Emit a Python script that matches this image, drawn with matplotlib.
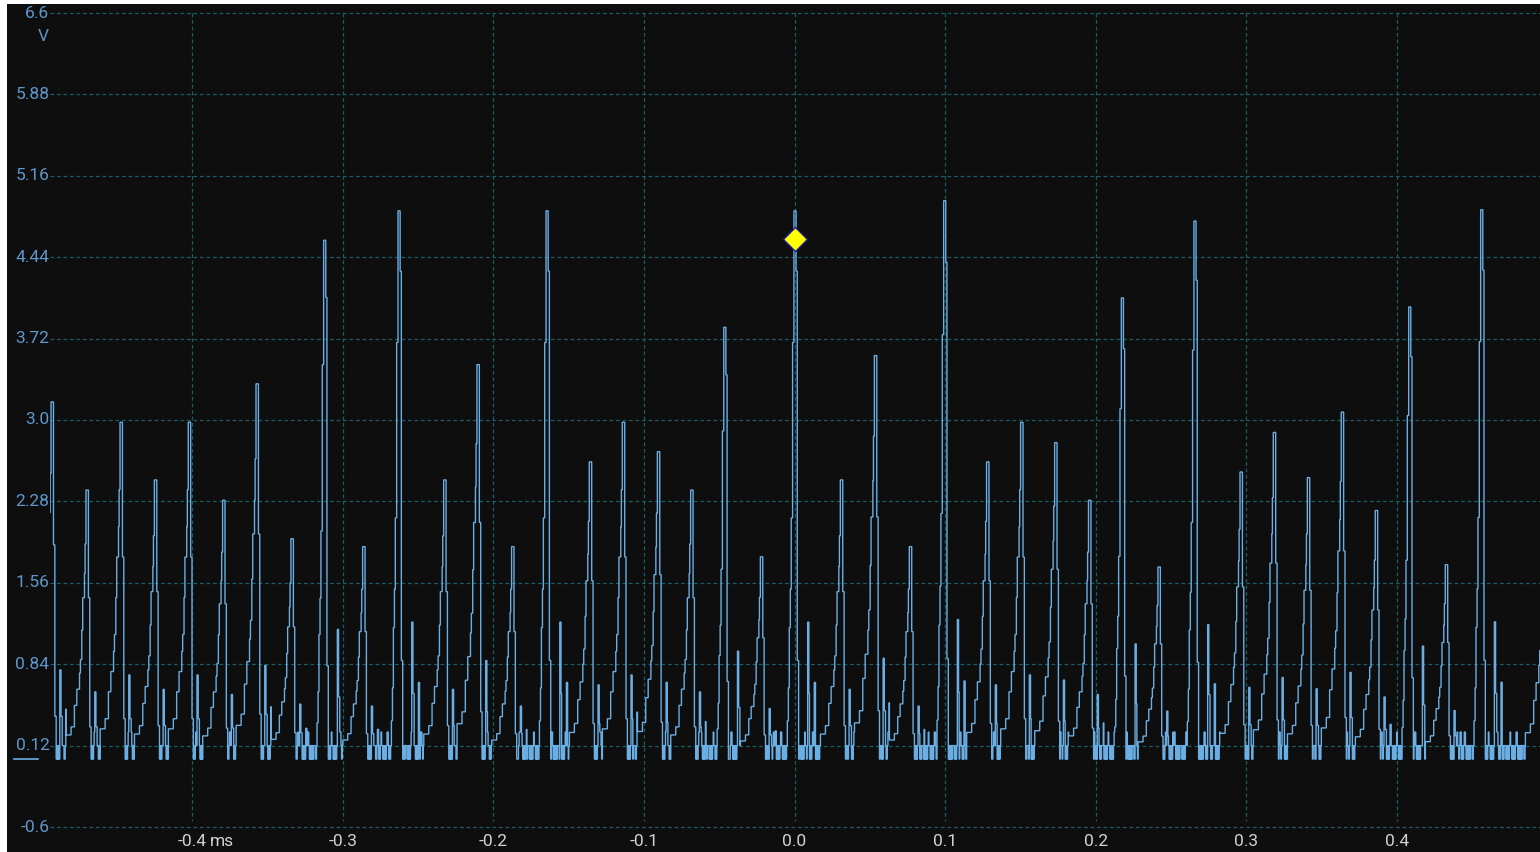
import matplotlib
matplotlib.use("Agg")
import matplotlib.pyplot as plt
from matplotlib.patches import Rectangle
from matplotlib.transforms import blended_transform_factory

W, H, DPI = 1540, 852, 100

# ---- pulse train: peak time (ms) and peak level (V) of each pulse ----
peak_times_ms = [-0.4932, -0.4700, -0.4474, -0.4246, -0.4021, -0.3793, -0.3571,
                 -0.3339, -0.3118, -0.2863, -0.2624, -0.2325, -0.2104, -0.1874,
                 -0.1641, -0.1358, -0.1139, -0.0906, -0.0685, -0.0461, -0.0222,
                 0.0005, 0.0309, 0.0535, 0.0767, 0.0999, 0.1280, 0.1506,
                 0.1732, 0.1957, 0.2179, 0.2418, 0.2661, 0.2963, 0.3184,
                 0.3410, 0.3635, 0.3861, 0.4087, 0.4326, 0.4565, 0.4990]
peak_volts = [3.16, 2.38, 2.98, 2.47, 2.98, 2.29, 3.32,
              1.95, 4.59, 1.88, 4.85, 2.47, 3.49, 1.88,
              4.85, 2.63, 2.98, 2.72, 2.38, 3.82, 1.79,
              4.85, 2.47, 3.57, 1.88, 4.94, 2.63, 2.98,
              2.80, 2.29, 4.08, 1.70, 4.76, 2.54, 2.89,
              2.49, 3.07, 2.20, 4.00, 1.72, 4.86, 2.60]

# step-rise / fall shape of a pulse (µs relative to peak, fraction of peak level)
small_rise_us = [-13.7, -10.4, -8.2, -6.6, -4.8, -4.2, -3.3, -2.7, -1.5, -1.1, -0.5]
small_rise_frac = [0.09, 0.12, 0.20, 0.26, 0.32, 0.37, 0.48, 0.60, 0.69, 0.80, 1.00]
small_fall_us = [1.1, 2.0, 2.9]
small_fall_frac = [0.60, 0.12, 0.0]
big_rise_us = [-5.3, -4.6, -4.0, -3.3, -2.7, -1.8, -0.9]
big_rise_frac = [0.07, 0.13, 0.24, 0.31, 0.44, 0.76, 1.00]
big_fall_us = [0.5, 1.3, 2.2]
big_fall_frac = [0.89, 0.18, 0.0]
big_threshold = 3.6

# ringing after each pulse: start (µs after peak) and level (fraction of peak)
small_ring_us = [5.1, 5.8, 9.0]
big_ring_us = [8.0, 8.7, 12.5]
ring_frac = [0.25, 0.12, 0.14]
ring_width_us = 0.7

# idle-level flicker between pulses (V), one entry per sample
idle_levels = [0.0, 0.12, 0.0, 0.12, 0.0, 0.12, 0.12, 0.12, 0.0, 0.0,
               0.12, 0.0, 0.12, 0.0, 0.12, 0.24, 0.12, 0.12, 0.0, 0.12,
               0.0, 0.12, 0.0, 0.0, 0.12, 0.24, 0.24, 0.12, 0.0, 0.12]
idle_step_us = 0.4

# trigger marker
trigger_t, trigger_v = 0.0, 4.6

y_ticks = [6.6, 5.88, 5.16, 4.44, 3.72, 3.0, 2.28, 1.56, 0.84, 0.12, -0.6]
y_labels = ["6.6", "5.88", "5.16", "4.44", "3.72", "3.0", "2.28", "1.56", "0.84", "0.12", "-0.6"]
x_ticks = [-0.4, -0.3, -0.2, -0.1, 0.0, 0.1, 0.2, 0.3, 0.4]
x_labels = ["-0.4", "-0.3", "-0.2", "-0.1", "0.0", "0.1", "0.2", "0.3", "0.4"]

BG = "#0e0e0e"
TRACE = "#6aaee4"
GRID = "#1b5d62"
YLAB = "#5f97cc"
XLAB = "#d2d2d2"

# ---- assemble the sampled trace ----
ts, vs = [], []
n = len(peak_times_ms)
k = 0
for i in range(n):
    tp = peak_times_ms[i] * 1000.0
    vp = peak_volts[i]
    big = vp >= big_threshold
    r_us, r_fr = (big_rise_us, big_rise_frac) if big else (small_rise_us, small_rise_frac)
    f_us, f_fr = (big_fall_us, big_fall_frac) if big else (small_fall_us, small_fall_frac)
    for o, f in zip(r_us, r_fr):
        ts.append(tp + o)
        vs.append(f * vp)
    for o, f in zip(f_us, f_fr):
        ts.append(tp + o)
        vs.append(f * vp)
    if i + 1 < n:
        tn = peak_times_ms[i + 1] * 1000.0
        nb = peak_volts[i + 1] >= big_threshold
        t_end = tn + (big_rise_us[0] if nb else small_rise_us[0])
    else:
        t_end = tp + 30.0
    rings = [tp + o for o in (big_ring_us if big else small_ring_us)]
    t = tp + f_us[-1] + idle_step_us
    while t < t_end - 0.2:
        level = None
        for rt, rf in zip(rings, ring_frac):
            if rt <= t < rt + ring_width_us:
                level = rf * vp
        if level is None:
            level = idle_levels[k % len(idle_levels)]
            k += 1
        ts.append(t)
        vs.append(level)
        t += idle_step_us

ts_ms = [t / 1000.0 for t in ts]

# ---- figure ----
plt.rcParams["font.family"] = ["Roboto", "DejaVu Sans"]
fig = plt.figure(figsize=(W / DPI, H / DPI), dpi=DPI, facecolor="white")
panel = Rectangle((7 / W, 0), 1 - 7 / W, 1 - 4 / H, transform=fig.transFigure,
                  facecolor=BG, edgecolor="none", zorder=-10)
fig.add_artist(panel)

ax = fig.add_axes([50 / W, 25 / H, 1490 / W, 814 / H])
ax.set_zorder(1)
ax.set_facecolor(BG)
for s in ax.spines.values():
    s.set_visible(False)
ax.set_xlim(-0.4944, 0.4950)
ax.set_ylim(-0.6, 6.6)
ax.set_xticks([])
ax.set_yticks([])

for yv in y_ticks:
    ax.axhline(yv, color=GRID, lw=0.9, ls=(0, (3, 2.2)), zorder=1, clip_on=False)
for xv in x_ticks:
    ax.plot([xv, xv], [6.6, -0.55], color=GRID, lw=0.9, ls=(0, (3, 2.2)), zorder=1)

ax.plot(ts_ms, vs, drawstyle="steps-post", color=TRACE, lw=1.0, zorder=3,
        solid_joinstyle="miter")

ax.plot([trigger_t], [trigger_v], marker="D", ms=12, color="#ffff00",
        mec="#1c1c9a", mew=1.0, zorder=5, ls="none")

# axis labels
ytr = blended_transform_factory(fig.transFigure, ax.transData)
for yv, lab in zip(y_ticks, y_labels):
    ax.text(49.5 / W, yv, lab, transform=ytr, ha="right", va="center",
            fontsize=12.5, color=YLAB, clip_on=False)
ax.text(43 / W, 6.6 - 24 / 113.06, "V", transform=ytr, ha="center", va="center",
        fontsize=12.5, color=YLAB, clip_on=False)
# ground reference marker
ax.plot([14 / W, 38 / W], [0.0, 0.0], transform=ytr, color=TRACE, lw=1.2,
        clip_on=False)

xtr = blended_transform_factory(ax.transData, fig.transFigure)
for xv, lab in zip(x_ticks, x_labels):
    ax.text(xv, 1 - 842 / H, lab, transform=xtr, ha="center", va="center",
            fontsize=12.5, color=XLAB, clip_on=False)
ax.text(x_ticks[0] + 0.0118, 1 - 842 / H, "ms", transform=xtr, ha="left",
        va="center", fontsize=12.5, color=XLAB, clip_on=False)

fig.savefig("out.png", dpi=DPI, facecolor="white")
